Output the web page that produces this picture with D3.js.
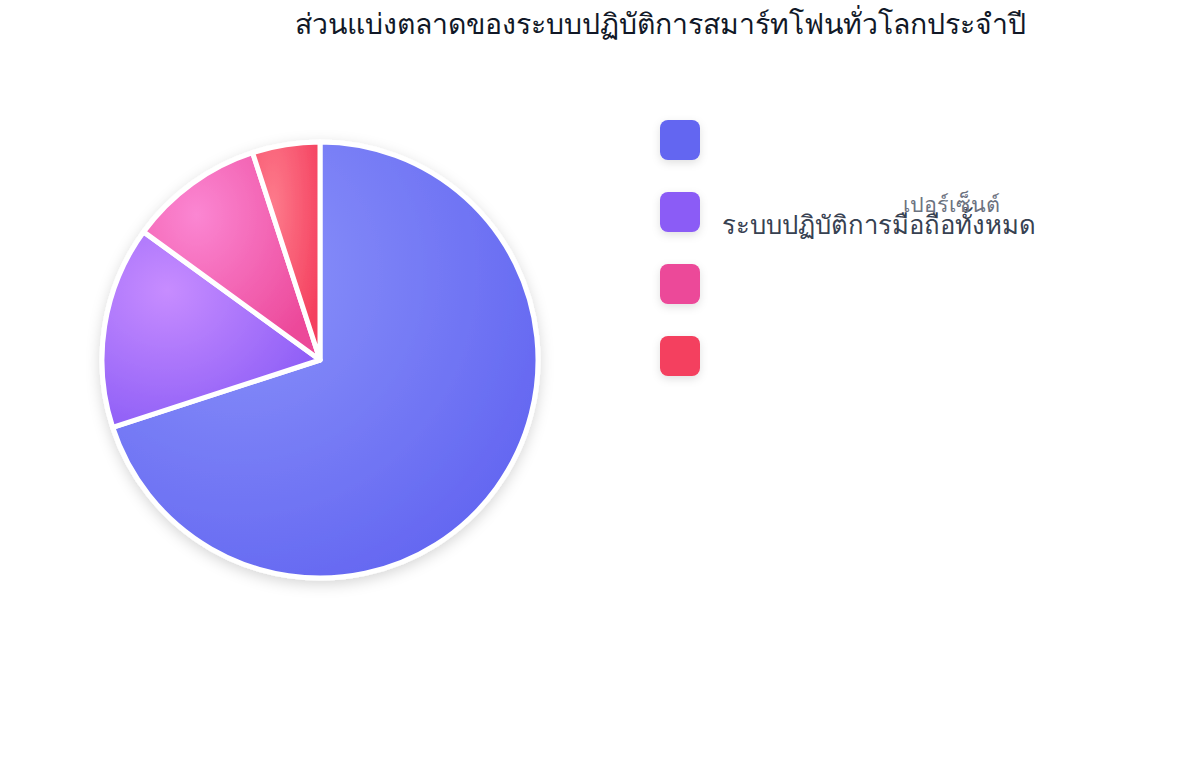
<!DOCTYPE html>
<html><head><meta charset="utf-8">
<script src="https://cdn.jsdelivr.net/npm/d3@7"></script>
<style>body{margin:0;background:#fff;font-family:"DejaVu Sans","Noto Sans",sans-serif}</style>
</head><body>
<svg id="c" width="1200" height="760"></svg>
<script>
const titleText = "ส่วนแบ่งตลาดของระบบปฏิบัติการสมาร์ทโฟนทั่วโลกประจำปี";
const categories = ["แอนดรอยด์", "ไอโอเอส", "ฮาร์โมนีโอเอส", "อื่นๆ"];
const values = [70, 15, 10, 5];
const colors = ["#6366f1", "#8b5cf6", "#ec4899", "#f43f5e"];
const lightColors = ["#8b93fa", "#c78cff", "#fb86d2", "#fd7b8c"];
const legendLabel = "ระบบปฏิบัติการมือถือทั้งหมด";
const legendNote = "เปอร์เซ็นต์";

const svg = d3.select("#c");
const defs = svg.append("defs");
const sh = defs.append("filter").attr("id","shadow").attr("x","-20%").attr("y","-20%").attr("width","140%").attr("height","140%");
sh.append("feDropShadow").attr("dx",0).attr("dy",4).attr("stdDeviation",7).attr("flood-color","#000").attr("flood-opacity",0.16);
const sh2 = defs.append("filter").attr("id","shadow2").attr("x","-50%").attr("y","-50%").attr("width","200%").attr("height","200%");
sh2.append("feDropShadow").attr("dx",0).attr("dy",3).attr("stdDeviation",4).attr("flood-color","#000").attr("flood-opacity",0.12);

values.forEach((v,i)=>{
  const g = defs.append("radialGradient").attr("id","g"+i).attr("cx","30%").attr("cy","30%").attr("r","80%");
  g.append("stop").attr("offset","0%").attr("stop-color", lightColors[i]);
  g.append("stop").attr("offset","100%").attr("stop-color", colors[i]);
});

svg.append("text").attr("x",295).attr("y",34).attr("font-size",28.4).attr("fill","#111827").text(titleText);

const cx = 320, cy = 360, R = 218;
const pie = d3.pie().sort(null).value(d=>d)(values);
const arc = d3.arc().innerRadius(0).outerRadius(R);
const pg = svg.append("g").attr("transform",`translate(${cx},${cy})`).attr("filter","url(#shadow)");
pg.selectAll("path").data(pie).join("path")
  .attr("d", arc)
  .attr("fill",(d,i)=>`url(#g${i})`)
  .attr("stroke","#fff").attr("stroke-width",5).attr("stroke-linejoin","round");

const y = d3.scaleBand().domain(categories).range([120, 376]).paddingInner(32/72).paddingOuter(0);
const lg = svg.append("g");
lg.selectAll("rect").data(categories).join("rect")
  .attr("x",660).attr("y",d=>y(d)).attr("width",40).attr("height",40).attr("rx",8)
  .attr("fill",(d,i)=>colors[i]).attr("filter","url(#shadow2)");

svg.append("text").attr("x",722).attr("y",234).attr("font-size",25.7).attr("fill","#374151").text(legendLabel);
svg.append("text").attr("x",903).attr("y",212).attr("font-size",21.5).attr("fill","#6b7280").text(legendNote);
</script>
</body></html>
